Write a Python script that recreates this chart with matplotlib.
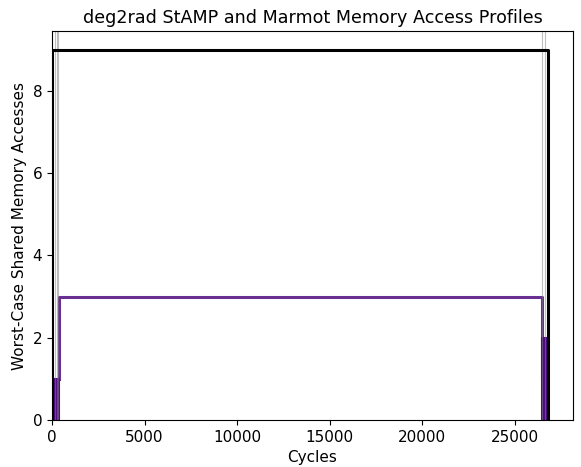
import matplotlib
matplotlib.use("Agg")
import matplotlib.pyplot as plt

# StAMP worst-case profile (black)
stamp_x = [0, 0, 26806, 26806]
stamp_y = [0, 9, 9, 0]

# Marmot phases: (start, end, accesses)
marmot_start = [0, 390, 26486]
marmot_end = [390, 26486, 26757]
marmot_val = [1, 3, 2]
marmot_filled = [True, False, True]

# phase boundaries
boundaries = [146, 265, 351, 26486, 26660]

plt.rcParams['font.size'] = 11

fig = plt.figure(figsize=(5.81, 4.67), dpi=100)
ax = fig.add_axes([0.0895, 0.1006, 0.8967, 0.833])

purple = '#4f0a80'

# filled phases
for s, e, v, f in zip(marmot_start, marmot_end, marmot_val, marmot_filled):
    if f:
        ax.fill_between([s, e], [v, v], 0, color=purple, lw=1.5, edgecolor=purple)

# marmot outline for the long middle phase
mx = [marmot_start[1], marmot_start[1], marmot_end[1], marmot_end[1]]
my = [marmot_val[0], marmot_val[1], marmot_val[1], marmot_val[0]]
ax.plot(mx, my, color=purple, lw=2.2, alpha=0.85)

for b in boundaries:
    ax.axvline(b, color='gray', lw=0.8, alpha=0.5)

ax.plot(stamp_x, stamp_y, color='black', lw=2.2)

ax.set_xlim(0, 26806 * 1.05)
ax.set_ylim(0, 9 * 1.05)
ax.set_xticks([0, 5000, 10000, 15000, 20000, 25000])
ax.set_xlabel('Cycles')
ax.set_ylabel('Worst-Case Shared Memory Accesses')
ax.set_title('deg2rad StAMP and Marmot Memory Access Profiles', fontsize=12.6)

fig.savefig('out.png', dpi=100)
